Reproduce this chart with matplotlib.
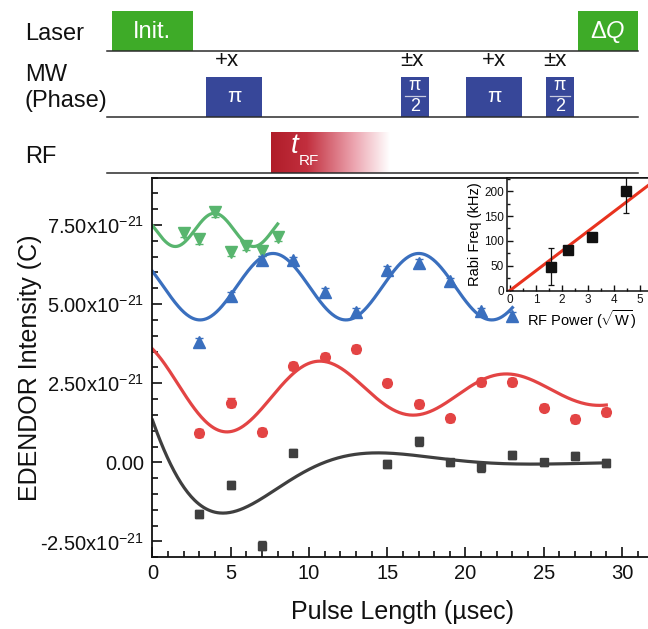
import numpy as np
import matplotlib
matplotlib.use("Agg")
import matplotlib.pyplot as plt
from matplotlib.patches import Rectangle
from matplotlib.colors import LinearSegmentedColormap
from matplotlib.ticker import MultipleLocator, FuncFormatter

plt.rcParams["font.family"] = ["Liberation Sans", "DejaVu Sans"]
plt.rcParams["mathtext.fontset"] = "custom"
plt.rcParams["mathtext.rm"] = "Liberation Sans"
plt.rcParams["mathtext.it"] = "Liberation Sans:italic"
plt.rcParams["mathtext.bf"] = "Liberation Sans:bold"

SCALE = 1e-21  # intensities below are in units of 1e-21 C

# --- EDENDOR data (pulse length in usec) ---
green_x = [2, 3, 4, 5, 6, 7, 8]
green_y = [7.26, 7.05, 7.90, 6.66, 6.84, 6.68, 7.13]
green_err = [0.14, 0.14, 0.16, 0.15, 0.14, 0.15, 0.15]

blue_x = [3, 5, 7, 9, 11, 13, 15, 17, 19, 21, 23]
blue_y = [3.80, 5.25, 6.40, 6.38, 5.37, 4.74, 6.09, 6.30, 5.72, 4.77, 4.62]
blue_err = [0.12, 0.13, 0.13, 0.12, 0.13, 0.13, 0.12, 0.13, 0.12, 0.12, 0.13]

red_x = [3, 5, 7, 9, 11, 13, 15, 17, 19, 21, 23, 25, 27, 29]
red_y = [0.92, 1.89, 0.96, 3.04, 3.34, 3.57, 2.52, 1.84, 1.39, 2.54, 2.55, 1.73, 1.36, 1.59]
red_err = [0.13, 0.13, 0.12, 0.13, 0.12, 0.13, 0.12, 0.12, 0.12, 0.12, 0.13, 0.12, 0.13, 0.12]

black_x = [3, 5, 7, 9, 15, 17, 19, 21, 23, 25, 27, 29]
black_y = [-1.63, -0.71, -2.63, 0.31, -0.05, 0.66, 0.00, -0.16, 0.24, 0.00, 0.21, -0.02]
black_err = [0.13, 0.13, 0.14, 0.12, 0.13, 0.13, 0.12, 0.13, 0.12, 0.12, 0.13, 0.12]

# damped cosine fits: offset, amplitude, decay time, period, phase, last x
green_fit = [7.345, 0.525, np.inf, 5.0, 1.307, 8.0]
blue_fit = [5.55, 1.05, np.inf, 9.32, 1.092, 23.0]
red_fit = [2.23, 1.58, 22.0, 11.9, 0.544, 29.0]
black_fit = [0.0, 3.9, 5.9, 19.8, 1.222, 29.0]

# --- inset: Rabi frequency vs RF power ---
power = [1.57, 2.22, 3.14, 4.46]
rabi = [48, 82, 107, 200]
rabi_err = [37, 7, 3, 43]
rabi_slope = 39.8

c_green = "#58b56e"
c_blue = "#3a6fbe"
c_red = "#e34444"
c_black = "#3f3f3f"

fig = plt.figure(figsize=(6.48, 6.29), dpi=100)

# ---------- pulse sequence (drawn in pixel coordinates) ----------
seq = fig.add_axes([0, 0, 1, 1], zorder=0)
seq.set_xlim(0, 648)
seq.set_ylim(629, 0)
seq.set_xticks([])
seq.set_yticks([])
seq.axis("off")

line_x = [106.6, 638]
for yb in [50.7, 116.5, 173.3]:
    seq.plot(line_x, [yb, yb], color="#2b2b2b", lw=1.1)

green_box = "#3eab28"
mw_box = "#374799"
seq.add_patch(Rectangle((111.6, 11), 81.4, 39.7, color=green_box, lw=0))
seq.add_patch(Rectangle((578, 11), 60, 39.7, color=green_box, lw=0))
seq.text(152, 32, "Init.", color="white", fontsize=17, ha="center", va="center")
seq.text(608, 32, r"$\Delta\mathit{Q}$", color="white", fontsize=17, ha="center", va="center")

# MW pulses: left, width, kind, phase label, label x
mw_pulses = [(206, 56, "pi", "+x", 227),
             (401, 28, "pi2", "±x", 412),
             (466, 56, "pi", "+x", 494),
             (546, 28, "pi2", "±x", 555)]
for left, w, kind, ph, lx in mw_pulses:
    seq.add_patch(Rectangle((left, 76.7), w, 39.8, color=mw_box, lw=0))
    cx = left + w / 2
    if kind == "pi":
        seq.text(cx, 97, "π", color="white", fontsize=15, ha="center", va="center")
    else:
        seq.text(cx, 86, "π", color="white", fontsize=13, ha="center", va="center")
        seq.plot([cx - 10, cx + 10], [95.5, 95.5], color="#c8cbe0", lw=0.9)
        seq.text(cx, 106.5, "2", color="white", fontsize=13, ha="center", va="center")
    seq.text(lx, 61, ph, color="#111111", fontsize=16, ha="center", va="center")

rf_cmap = LinearSegmentedColormap.from_list(
    "rf", [(0, "#b01d29"), (0.3, "#c22f3e"), (0.7, "#eca5b0"), (1, "#ffffff")])
seq.imshow(np.linspace(0, 1, 256)[None, :], cmap=rf_cmap, aspect="auto",
           extent=[271, 390, 173.3, 132.3], zorder=1)
seq.text(295, 146, "t", color="white", fontsize=20, style="italic",
         ha="center", va="center", zorder=2)
seq.text(299, 161, "RF", color="white", fontsize=11, ha="left", va="center", zorder=2)

for txt, yy in [("Laser", 34), ("MW", 75), ("(Phase)", 101), ("RF", 157)]:
    seq.text(25, yy, txt, color="#111111", fontsize=17, ha="left", va="center")

# ---------- main EDENDOR plot ----------
ax = fig.add_axes([0.2353, 0.1140, 0.7728, 0.6038], zorder=1)

series = [
    (green_x, green_y, green_err, green_fit, c_green, "v", 8),
    (blue_x, blue_y, blue_err, blue_fit, c_blue, "^", 8),
    (red_x, red_y, red_err, red_fit, c_red, "o", 7),
    (black_x, black_y, black_err, black_fit, c_black, "s", 6),
]
for xs, ys, es, fit, col, mk, ms in series:
    c0, amp, tau, per, phi, xend = fit
    xf = np.linspace(0, xend, 400)
    yf = c0 + amp * np.exp(-xf / tau) * np.cos(2 * np.pi * xf / per + phi)
    ax.plot(xf, yf * SCALE, color=col, lw=2.3, zorder=2)
    ax.errorbar(xs, np.array(ys) * SCALE, yerr=np.array(es) * SCALE, fmt=mk,
                ms=ms, color=col, mec=col, ecolor=col, elinewidth=1,
                capsize=3, capthick=1, zorder=3)

ax.set_xlim(0, 32)
ax.set_ylim(-3 * SCALE, 9 * SCALE)
ax.xaxis.set_major_locator(MultipleLocator(5))
ax.xaxis.set_minor_locator(MultipleLocator(1))
ax.yaxis.set_major_locator(MultipleLocator(2.5 * SCALE))
ax.yaxis.set_minor_locator(MultipleLocator(0.5 * SCALE))


def ylab(v, pos):
    v = v / SCALE
    if abs(v) < 1e-9:
        return "0.00"
    return f"{v:.2f}x10$^{{-21}}$"


ax.yaxis.set_major_formatter(FuncFormatter(ylab))
ax.tick_params(which="both", direction="in", width=1.2, labelsize=14.5, colors="#111111")
ax.tick_params(which="major", length=7)
ax.tick_params(which="minor", length=4)
ax.tick_params(axis="x", pad=5)
ax.tick_params(axis="y", pad=6)
for s in ax.spines.values():
    s.set_linewidth(1.3)
    s.set_color("#111111")
ax.set_xlabel("Pulse Length (µsec)", fontsize=18, labelpad=12, color="#111111")
ax.set_ylabel("EDENDOR Intensity (C)", fontsize=18, labelpad=-1, color="#111111")

# ---------- inset ----------
ins = fig.add_axes([0.7824, 0.5366, 0.2293, 0.1812], zorder=2)
xl = np.array([0, 5.6])
ins.plot(xl, rabi_slope * xl, color="#e8321e", lw=2.2, zorder=2)
ins.errorbar(power, rabi, yerr=rabi_err, fmt="s", ms=6.5, color="#111111",
             ecolor="#111111", elinewidth=0.9, capsize=2.5, capthick=0.9, zorder=3)
ins.set_xlim(-0.115, 5.6)
ins.set_ylim(-2, 227.6)
ins.xaxis.set_major_locator(MultipleLocator(1))
ins.xaxis.set_minor_locator(MultipleLocator(0.5))
ins.yaxis.set_major_locator(MultipleLocator(50))
ins.yaxis.set_minor_locator(MultipleLocator(25))
ins.tick_params(which="both", direction="in", width=1, labelsize=8.5, pad=2, colors="#111111")
ins.tick_params(which="major", length=4)
ins.tick_params(which="minor", length=2.5)
for s in ins.spines.values():
    s.set_linewidth(1.1)
    s.set_color("#111111")
ins.set_xlabel(r"RF Power ($\sqrt{\mathrm{W}}$)", fontsize=10.5, labelpad=1.5)
ins.set_ylabel("Rabi Freq (kHz)", fontsize=10.5, labelpad=2)

fig.savefig("out.png", dpi=100)
